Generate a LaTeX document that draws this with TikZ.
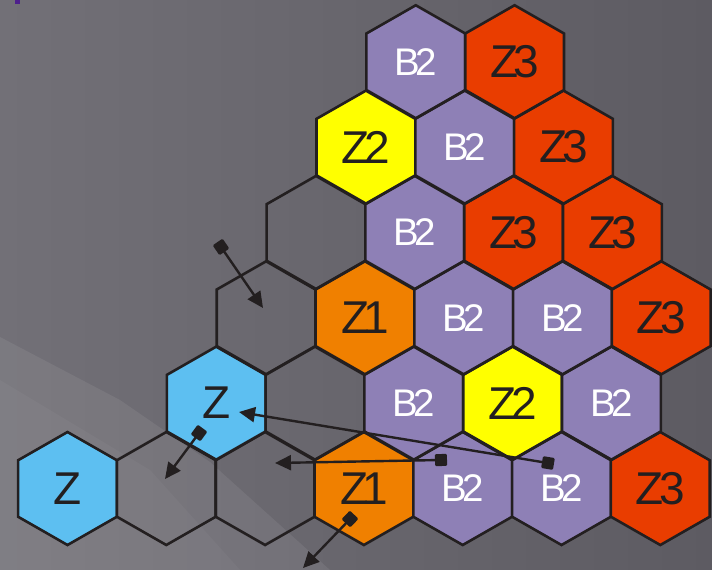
\documentclass[tikz,border=0pt]{standalone}
\usepackage{fontspec}
\setmainfont{Liberation Sans}
\usetikzlibrary{arrows.meta,calc}
\definecolor{bgA}{RGB}{114,112,119}
\definecolor{bgB}{RGB}{93,91,98}
\definecolor{zblue}{RGB}{93,191,241}
\definecolor{zyellow}{RGB}{255,255,0}
\definecolor{zorange}{RGB}{240,128,0}
\definecolor{zred}{RGB}{233,61,0}
\definecolor{bpurple}{RGB}{142,128,182}
\definecolor{outl}{RGB}{35,31,32}
\definecolor{markpurple}{RGB}{78,32,140}
\tikzset{
  hexline/.style={draw=outl,line width=2.6pt,line join=miter},
  ztext/.style={text=outl,inner sep=0pt,font=\fontsize{46}{46}\selectfont},
  btext/.style={text=white,inner sep=0pt,font=\fontsize{38.5}{38.5}\selectfont},
  arr/.style={draw=outl,line width=2.4pt,
    {Square[length=12pt,width=12pt,round]}-{Triangle[length=16pt,width=15pt]}},
}
% name, i, j, fill style, text style, text
\newcommand\hexcell[6]{%
  \path ({67.5+49.4*#2+0.5*#3},{488.5-85.35*#3}) coordinate (#1c);
  \path[hexline,#4] ($(#1c)+(0,56.5)$) -- ++(49.4,-28.25) -- ++(0,-56.5)
     -- ++(-49.4,-28.25) -- ++(-49.4,28.25) -- ++(0,56.5) -- cycle;
  \node[#5] (#1) at (#1c) {#6};
}
\begin{document}
\begin{tikzpicture}[x=1pt,y=-1pt]
\useasboundingbox (0,0) rectangle (712,570);
% background
\shade[left color=bgA,right color=bgB] (0,0) rectangle (712,570);
\fill[white,opacity=0.07] (0,337) -- (120,400) -- (210,462) -- (330,570) -- (0,570) -- cycle;
\fill[white,opacity=0.035] (0,380) -- (150,470) -- (240,570) -- (0,570) -- cycle;
\fill[markpurple] (15,0) rectangle (20,4);
% row 0
\hexcell{r0a}{0}{0}{fill=zblue}{ztext}{Z}
\hexcell{r0b}{2}{0}{}{}{}
\hexcell{r0c}{4}{0}{}{}{}
\hexcell{r0d}{6}{0}{fill=zorange}{ztext}{Z\kern-6pt 1}
\hexcell{r0e}{8}{0}{fill=bpurple}{btext}{B\kern-5pt 2}
\hexcell{r0f}{10}{0}{fill=bpurple}{btext}{B\kern-5pt 2}
\hexcell{r0g}{12}{0}{fill=zred}{ztext}{Z\kern-5pt 3}
% row 1
\hexcell{r1a}{3}{1}{fill=zblue}{ztext}{Z}
\hexcell{r1b}{5}{1}{}{}{}
\hexcell{r1c}{7}{1}{fill=bpurple}{btext}{B\kern-5pt 2}
\hexcell{r1d}{9}{1}{fill=zyellow}{ztext}{Z\kern-5pt 2}
\hexcell{r1e}{11}{1}{fill=bpurple}{btext}{B\kern-5pt 2}
% row 2
\hexcell{r2a}{4}{2}{}{}{}
\hexcell{r2b}{6}{2}{fill=zorange}{ztext}{Z\kern-6pt 1}
\hexcell{r2c}{8}{2}{fill=bpurple}{btext}{B\kern-5pt 2}
\hexcell{r2d}{10}{2}{fill=bpurple}{btext}{B\kern-5pt 2}
\hexcell{r2e}{12}{2}{fill=zred}{ztext}{Z\kern-5pt 3}
% row 3
\hexcell{r3a}{5}{3}{}{}{}
\hexcell{r3b}{7}{3}{fill=bpurple}{btext}{B\kern-5pt 2}
\hexcell{r3c}{9}{3}{fill=zred}{ztext}{Z\kern-5pt 3}
\hexcell{r3d}{11}{3}{fill=zred}{ztext}{Z\kern-5pt 3}
% row 4
\hexcell{r4a}{6}{4}{fill=zyellow}{ztext}{Z\kern-5pt 2}
\hexcell{r4b}{8}{4}{fill=bpurple}{btext}{B\kern-5pt 2}
\hexcell{r4c}{10}{4}{fill=zred}{ztext}{Z\kern-5pt 3}
% row 5
\hexcell{r5a}{7}{5}{fill=bpurple}{btext}{B\kern-5pt 2}
\hexcell{r5b}{9}{5}{fill=zred}{ztext}{Z\kern-5pt 3}
% arrows
\coordinate (a1s) at (217.6,242.0); \coordinate (a1e) at (263,308);
\coordinate (a2s) at (202.6,428.2); \coordinate (a2e) at (165,479);
\coordinate (a3s) at (447,459.9); \coordinate (a3e) at (275,463);
\coordinate (a4s) at (553.9,464); \coordinate (a4e) at (239,412);
\coordinate (a5s) at (354.2,514.7); \coordinate (a5e) at (303,568);
\draw[arr] (a1s) -- (a1e);
\draw[arr] (a2s) -- (a2e);
\draw[arr] (a3s) -- (a3e);
\draw[arr] (a4s) -- (a4e);
\draw[arr] (a5s) -- (a5e);
\end{tikzpicture}
\end{document}
